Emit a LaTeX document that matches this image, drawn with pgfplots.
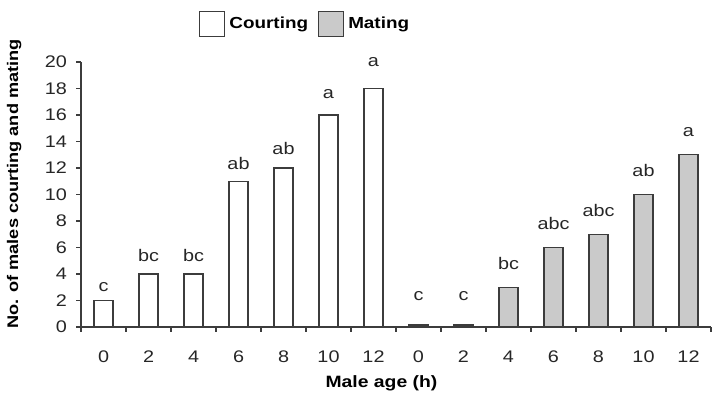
\documentclass[border=0pt]{standalone}
\usepackage{pgfplots}
\pgfplotsset{compat=1.18}
\usepackage{fontspec}
\setmainfont{Liberation Sans}[FakeStretch=1.18]
\definecolor{edge}{RGB}{60,60,60}
\definecolor{matfill}{RGB}{202,202,202}
\begin{document}
\begin{tikzpicture}
\begin{axis}[
  scale only axis, width=315pt, height=132.5pt,
  xmin=-0.5, xmax=13.5, ymin=0, ymax=20,
  axis x line*=bottom, axis y line*=left,
  ytick={0,2,...,20},
  xtick={-0.5,0.5,...,13.5},
  x tick label as interval,
  xticklabels={0,2,4,6,8,10,12,0,2,4,6,8,10,12},
  tick align=outside,
  major tick length=2.5pt,
  axis line style={edge, line width=0.7pt},
  tick style={edge, line width=0.7pt},
  tick label style={font=\fontsize{8.4}{10}\selectfont, text=black!85},
  xticklabel style={yshift=-6pt},
  yticklabel style={xshift=-1pt},
  /pgf/number format/assume math mode=true,
  xlabel={\bfseries Male age (h)},
  ylabel={\bfseries No. of males courting and mating},
  xlabel style={font=\fontsize{8.2}{10}\selectfont, at={(rel axis cs:0.477,0)}, anchor=center, yshift=-28pt},
  ylabel style={font=\fontsize{7.7}{10}\selectfont, at={(rel axis cs:-0.106,0.54)}, anchor=center},
  legend style={at={(rel axis cs:0.187,1.143)}, anchor=west, draw=none, fill=none,
    inner sep=0pt, font=\fontsize{8}{10}\selectfont\bfseries,
    /tikz/every even column/.append style={column sep=3pt}},
  legend columns=2,
  legend image code/.code={\draw[#1] (0pt,-6.25pt) rectangle (12.5pt,6.25pt);},
]
\addplot[ybar, bar width=9.5pt, bar shift=0pt, fill=white, draw=edge, line width=0.6pt]
  table {
x y
0 2
1 4
2 4
3 11
4 12
5 16
6 18
};
\addlegendentry{Courting}
\addplot[ybar, bar width=9.5pt, bar shift=0pt, fill=matfill, draw=edge, line width=0.6pt]
  table {
x y
7 0.15
8 0.15
9 3
10 6
11 7
12 10
13 13
};
\addlegendentry{Mating}
\addplot[forget plot, only marks, mark=none, point meta=explicit symbolic,
  nodes near coords,
  nodes near coords style={anchor=south, inner sep=0pt, font=\fontsize{8.4}{10}\selectfont, text=black!85}]
  table[meta=lab] {
x y lab
0 2.64 c
1 4.91 bc
2 4.91 bc
3 11.85 ab
4 12.98 ab
5 17.2 a
6 19.62 a
7 1.96 c
8 1.96 c
9 4.30 bc
10 7.32 abc
11 8.30 abc
12 11.32 ab
13 14.34 a
};
\coordinate (BL) at (rel axis cs:-0.1286,-0.249);
\coordinate (TR) at (rel axis cs:1.0016,1.234);
\end{axis}
\pgfresetboundingbox
\useasboundingbox (BL) rectangle (TR);
\end{tikzpicture}
\end{document}
